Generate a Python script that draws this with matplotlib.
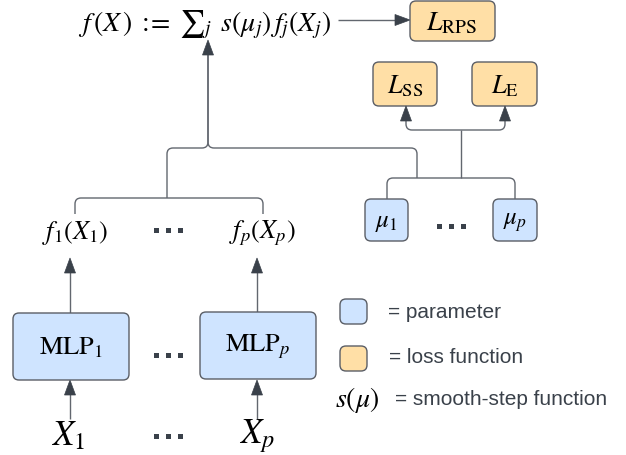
import numpy as np
import matplotlib
matplotlib.use("Agg")
import matplotlib.pyplot as plt
from matplotlib.path import Path
from matplotlib.patches import PathPatch, FancyBboxPatch, Polygon

# labels of the diagram
formula = r"$f\,(X\,)\;{:}\!\!{=}\;{\sum}_j\;\, s(\mu_j)\,f_j(X_j)$"
loss_labels = [r"$L_{\mathrm{RPS}}$", r"$L_{\mathrm{SS}}$", r"$L_{\mathrm{E}}$"]
param_labels = [r"$\mu_1$", r"$\mu_p$"]
func_labels = [r"$f_1(X_1)$", r"$f_p(X_p)$"]
mlp_labels = [r"$\mathrm{MLP}_1$", r"$\mathrm{MLP}_p$"]
input_labels = [r"$X_1$", r"$X_p$"]
legend_labels = ["= parameter", "= loss function", "= smooth-step function"]
legend_symbol = r"$s(\mu)$"

BLUE = "#CFE4FF"
ORANGE = "#FFDFA6"
EDGE = "#5A5E66"
LINE = "#62676F"
HEAD = "#3A414A"
TXT = "#3A414A"

plt.rcParams["mathtext.fontset"] = "stix"
plt.rcParams["font.family"] = ["Liberation Sans", "DejaVu Sans"]

fig = plt.figure(figsize=(6.26, 4.56), dpi=100)
ax = fig.add_axes([0, 0, 1, 1])
ax.set_xlim(0, 626)
ax.set_ylim(456, 0)
ax.axis("off")


def box(x0, y0, x1, y1, color):
    ax.add_patch(FancyBboxPatch((x0, y0), x1 - x0, y1 - y0,
                                boxstyle="round,pad=0,rounding_size=6",
                                fc=color, ec=EDGE, lw=1.0))


def connector(points, r=6):
    verts = [points[0]]
    codes = [Path.MOVETO]
    for i in range(1, len(points) - 1):
        p0, p1, p2 = (np.array(points[i - 1], float), np.array(points[i], float),
                      np.array(points[i + 1], float))
        d1 = (p1 - p0) / np.linalg.norm(p1 - p0)
        d2 = (p2 - p1) / np.linalg.norm(p2 - p1)
        verts += [p1 - d1 * r, p1, p1 + d2 * r]
        codes += [Path.LINETO, Path.CURVE3, Path.CURVE3]
    verts.append(points[-1])
    codes.append(Path.LINETO)
    ax.add_patch(PathPatch(Path(verts, codes), fc="none", ec=LINE, lw=1.0))


def head(x, y, direction="up", L=15, w=5.5):
    if direction == "up":
        pts = [(x - w, y + L), (x + w, y + L), (x, y)]
    else:
        pts = [(x - L, y - w), (x - L, y + w), (x, y)]
    ax.add_patch(Polygon(pts, closed=True, fc=HEAD, ec=HEAD, lw=0.5))


def dots(xc, y):
    for dx in (-12, 0, 12):
        ax.add_patch(plt.Rectangle((xc + dx - 2.5, y - 2.5), 5, 5, fc=HEAD, ec="none"))


# formula and L_RPS
ax.text(78, 31, formula, fontsize=20, ha="left", va="baseline", color="black")
connector([(338, 21), (396, 21)])
head(410, 21, "right")
box(410, 2, 495, 42, ORANGE)
ax.text(452, 23, loss_labels[0], fontsize=20, ha="center", va="center")

# L_SS and L_E
box(373, 63, 437, 107, ORANGE)
box(472, 63, 537, 107, ORANGE)
ax.text(405, 86, loss_labels[1], fontsize=19, ha="center", va="center")
ax.text(505, 86, loss_labels[2], fontsize=19, ha="center", va="center")
connector([(406, 121), (406, 131), (505, 131), (505, 121)])
head(406, 107)
head(505, 107)
connector([(461, 131), (461, 179)], r=0)

# parameters mu
box(365, 200, 408, 242, BLUE)
box(493, 200, 537, 242, BLUE)
ax.text(386, 222, param_labels[0], fontsize=18, ha="center", va="center")
ax.text(515, 222, param_labels[1], fontsize=18, ha="center", va="center")
dots(451, 227)
connector([(387, 200), (387, 179), (515, 179), (515, 200)])
connector([(417, 179), (417, 149), (208, 149), (208, 55)])

# f_j(X_j)
connector([(167, 199), (167, 149), (208, 149), (208, 55)])
head(208, 41)
connector([(75, 215), (75, 199), (263, 199), (263, 215)])
ax.text(75, 233, func_labels[0], fontsize=19, ha="center", va="center")
ax.text(262, 233, func_labels[1], fontsize=19, ha="center", va="center")
dots(168, 231)

# MLPs
for xc in (70, 257):
    connector([(xc, 314), (xc, 272)], r=0)
    head(xc, 259)
    connector([(xc, 420), (xc, 395)], r=0)
    head(xc, 381)
box(13, 314, 129, 381, BLUE)
box(200, 313, 316, 380, BLUE)
ax.text(71, 348, mlp_labels[0], fontsize=19, ha="center", va="center")
ax.text(258, 347, mlp_labels[1], fontsize=19, ha="center", va="center")
dots(168, 356)

# inputs
ax.text(68, 436, input_labels[0], fontsize=25, ha="center", va="center")
ax.text(257, 436, input_labels[1], fontsize=25, ha="center", va="center")
dots(168, 438)

# legend
box(340, 300, 367, 325, BLUE)
box(340, 347, 367, 372, ORANGE)
ax.text(388, 313, legend_labels[0], fontsize=15, ha="left", va="center", color=TXT)
ax.text(389, 358, legend_labels[1], fontsize=15, ha="left", va="center", color=TXT)
ax.text(335, 400, legend_symbol, fontsize=20, ha="left", va="center", color="black")
ax.text(395, 400, legend_labels[2], fontsize=15, ha="left", va="center", color=TXT)

fig.savefig("out.png", dpi=100)
